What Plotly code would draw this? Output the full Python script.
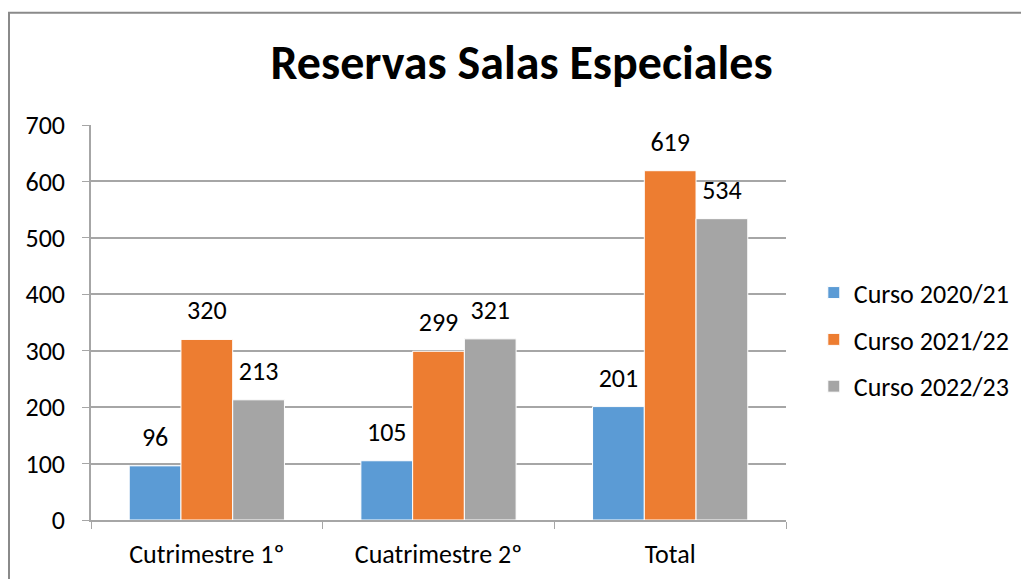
import plotly.graph_objects as go

categories = ["Cutrimestre 1º", "Cuatrimestre 2º", "Total"]
series_names = ["Curso 2020/21", "Curso 2021/22", "Curso 2022/23"]
curso_2020 = [96, 105, 201]
curso_2021 = [320, 299, 619]
curso_2022 = [213, 321, 534]
y_ticks = [0, 100, 200, 300, 400, 500, 600, 700]

colors = ["#5b9bd5", "#ed7d31", "#a5a5a5"]
font_family = "Calibri, Carlito, Lato, sans-serif"
grid = "#a6a6a6"

fig = go.Figure()
all_series = [curso_2020, curso_2021, curso_2022]
for i, (name, vals) in enumerate(zip(series_names, all_series)):
    fig.add_trace(go.Bar(
        x=categories,
        y=vals,
        name=name,
        legendgroup=name,
        marker_color=colors[i],
        marker_line_color="white",
        marker_line_width=1,
        hoverinfo="y",
    ))

# value labels: invisible markers grouped like the bars, text sits above them
for i, (name, vals) in enumerate(zip(series_names, all_series)):
    fig.add_trace(go.Scatter(
        x=categories,
        y=vals,
        mode="markers+text",
        text=[str(v) for v in vals],
        textposition="top center",
        textfont=dict(size=26, color="black", family=font_family),
        marker=dict(size=20, color="rgba(0,0,0,0)"),
        showlegend=False,
        hoverinfo="skip",
        cliponaxis=False,
    ))

fig.update_layout(
    width=1021,
    height=571,
    margin=dict(l=83, r=243, t=117, b=59, autoexpand=False),
    paper_bgcolor="white",
    plot_bgcolor="white",
    font=dict(family=font_family, size=26, color="black"),
    barmode="group",
    bargap=0.33,
    bargroupgap=0,
    scattermode="group",
    scattergap=0.33,
    title=dict(
        text="<b>Reservas Salas Especiales</b>",
        font=dict(size=48, color="black", family=font_family),
        xref="container", x=0.503, xanchor="center",
        yref="container", y=0.905, yanchor="middle",
    ),
    legend=dict(
        x=1.04, xanchor="left",
        y=0.635, yanchor="top",
        traceorder="grouped",
        tracegroupgap=10,
        font=dict(size=26, family=font_family),
        itemwidth=30,
    ),
    xaxis=dict(
        showline=True, linecolor=grid, linewidth=1.5,
        ticks="outside", tickson="boundaries", ticklen=7, tickcolor=grid,
        tickfont=dict(size=26),
        ticklabelstandoff=10,
        showgrid=False,
    ),
    yaxis=dict(
        range=[0, 700],
        tickvals=y_ticks,
        showline=True, linecolor=grid, linewidth=1.5,
        ticks="outside", ticklen=7, tickcolor=grid,
        gridcolor=grid, gridwidth=1.5,
        zeroline=False,
        tickfont=dict(size=26),
        ticklabelstandoff=12,
    ),
    shapes=[dict(
        type="rect", xref="paper", yref="paper",
        x0=-0.118, x1=1.5, y0=-0.3, y1=1.284,
        line=dict(color="#8a8a8a", width=2),
        layer="below",
    )],
)

fig.write_html("out.html")
